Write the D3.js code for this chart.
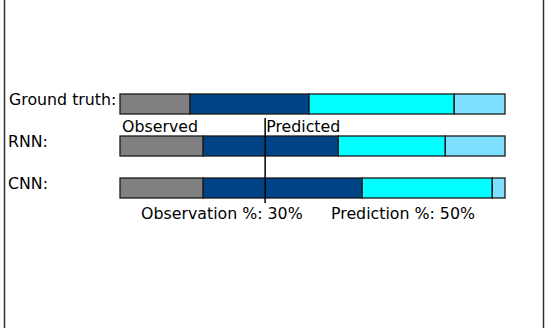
<!DOCTYPE html>
<html>
<head>
<meta charset="utf-8">
<script src="https://cdn.jsdelivr.net/npm/d3@7"></script>
<style>
  body { margin: 0; background: #fff; }
  text { font-family: "DejaVu Sans", sans-serif; font-size: 15.8px; fill: #000; }
</style>
</head>
<body>
<div class="chart"></div>
<script>
// segment lengths along the timeline (0..100)
var models = ["Ground truth:", "RNN:", "CNN:"];
var segColors = ["#808080", "#004488", "#00ffff", "#7fdfff"];
var gtSegs  = [18.2, 30.9, 37.7, 13.2];
var rnnSegs = [21.6, 35.1, 27.8, 15.5];
var cnnSegs = [21.6, 41.3, 33.8, 3.3];
var observedEnd = 37.7;
var obsLabel = "Observation %: 30%";
var predLabel = "Prediction %: 50%";

var width = 548, height = 328;

var svg = d3.select(".chart").append("svg")
    .attr("width", width)
    .attr("height", height);

// frame lines left and right
svg.append("line").attr("x1", 4.5).attr("x2", 4.5).attr("y1", 0).attr("y2", height)
  .style("stroke", "#333").style("stroke-width", 1.5);
svg.append("line").attr("x1", 543.5).attr("x2", 543.5).attr("y1", 0).attr("y2", height)
  .style("stroke", "#333").style("stroke-width", 1.5);

var x = d3.scaleLinear().domain([0, 100]).range([120, 505]);
var y = d3.scaleBand().domain(models).range([94, 198]).paddingInner(22 / 42);

var allSegs = [gtSegs, rnnSegs, cnnSegs];

models.forEach(function(m, i) {
  var segs = allSegs[i];
  var start = 0;
  var g = svg.append("g");
  segs.forEach(function(len, j) {
    g.append("rect")
      .attr("x", x(start))
      .attr("y", y(m))
      .attr("width", x(start + len) - x(start))
      .attr("height", y.bandwidth())
      .style("fill", segColors[j])
      .style("stroke", "#1a1a1a")
      .style("stroke-width", 1.3);
    start += len;
  });
  svg.append("text")
    .attr("x", i === 0 ? 9 : 8)
    .attr("y", y(m) + 11)
    .text(m);
});

// observed / predicted divider
svg.append("line")
  .attr("x1", x(observedEnd)).attr("x2", x(observedEnd))
  .attr("y1", 118).attr("y2", 203)
  .style("stroke", "#000").style("stroke-width", 1.5);

svg.append("text").attr("x", x(0) + 2).attr("y", 132).text("Observed");
svg.append("text").attr("x", x(observedEnd) + 1).attr("y", 132).text("Predicted");

svg.append("text").attr("x", 141).attr("y", 219).text(obsLabel);
svg.append("text").attr("x", 331).attr("y", 219).text(predLabel);
</script>
</body>
</html>
